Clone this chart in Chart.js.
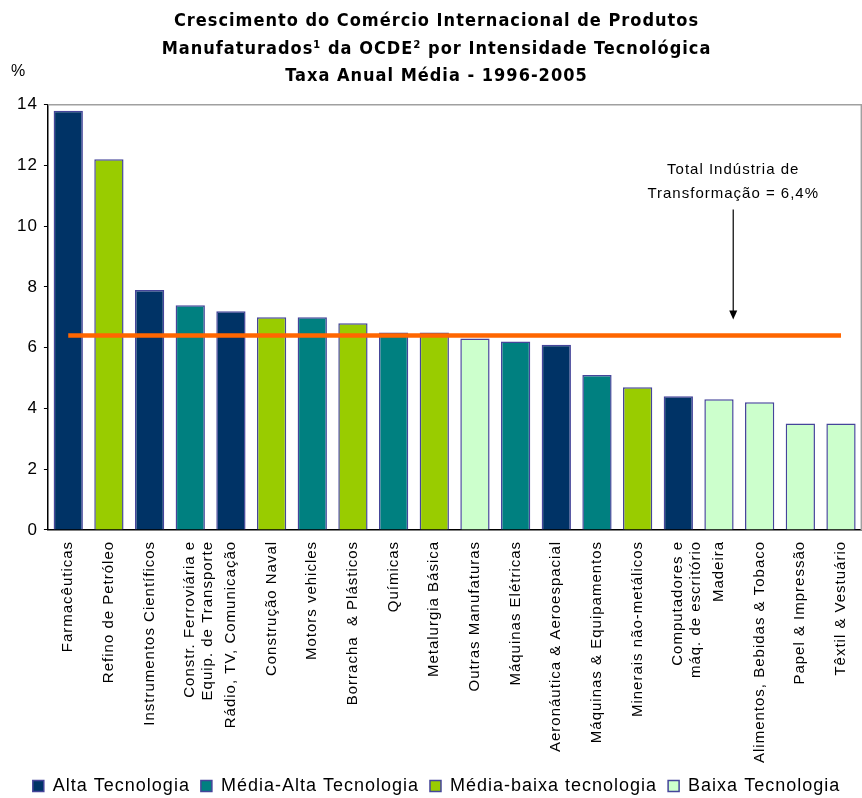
<!DOCTYPE html>
<html lang="pt">
<head>
<meta charset="utf-8">
<title>Crescimento do Comércio Internacional de Produtos Manufaturados</title>
<script src="https://cdn.jsdelivr.net/npm/chart.js@4/dist/chart.umd.min.js"></script>
<style>
    html, body { margin: 0; padding: 0; background: #fff; }
    #wrap { width: 862px; height: 798px; }
</style>
</head>
<body>
<div id="wrap"><canvas id="barchart"></canvas></div>
<script>
const setores = [
    'Farmacêuticas',
    'Refino de Petróleo',
    'Instrumentos Científicos',
    ['Constr. Ferroviária e', 'Equip. de Transporte'],
    'Rádio, TV, Comunicação',
    'Construção Naval',
    'Motors vehicles',
    'Borracha  & Plásticos',
    'Químicas',
    'Metalurgia Básica',
    'Outras Manufaturas',
    'Máquinas Elétricas',
    'Aeronáutica & Aeroespacial',
    'Máquinas & Equipamentos',
    'Minerais não-metálicos',
    ['Computadores e', 'máq. de escritório'],
    'Madeira',
    'Alimentos, Bebidas & Tobaco',
    'Papel & Impressão',
    'Têxtil & Vestuário'
];
const taxas = [13.8, 12.2, 7.9, 7.4, 7.2, 7.0, 7.0, 6.8, 6.5, 6.5,
               6.3, 6.2, 6.1, 5.1, 4.7, 4.4, 4.3, 4.2, 3.5, 3.5];
// 0 = alta, 1 = média-alta, 2 = média-baixa, 3 = baixa
const nivel = [0, 2, 0, 1, 0, 2, 1, 2, 1, 2,
               3, 1, 0, 1, 2, 0, 3, 3, 3, 3];
const niveis = ['Alta Tecnologia', 'Média-Alta Tecnologia', 'Média-baixa tecnologia', 'Baixa Tecnologia'];
const cores = ['#003366', '#008080', '#99cc00', '#ccffcc'];
const totalIndustria = 6.4;
const yTicks = [0, 2, 4, 6, 8, 10, 12, 14];

const fonte = "'Liberation Sans', Arial, sans-serif";
const contorno = '#45459a';

// texto um pouco espaçado em todo o gráfico
const espacamento = {
    id: 'espacamento',
    beforeUpdate(chart) { chart.ctx.letterSpacing = '1px'; },
    beforeDraw(chart) { chart.ctx.letterSpacing = '1px'; }
};

// moldura, "%" e a seta com o texto do total
const extras = {
    id: 'extras',
    afterDraw(chart) {
        const ctx = chart.ctx;
        const a = chart.chartArea;
        const x = chart.scales.x;
        const y = chart.scales.y;
        ctx.save();
        ctx.strokeStyle = '#a0a0a0';
        ctx.lineWidth = 1.5;
        ctx.beginPath();
        ctx.moveTo(a.left, a.top);
        ctx.lineTo(a.right, a.top);
        ctx.lineTo(a.right, a.bottom);
        ctx.stroke();

        ctx.fillStyle = '#000';
        ctx.font = '16px ' + fonte;
        ctx.textAlign = 'left';
        ctx.textBaseline = 'middle';
        ctx.fillText('%', 11, 72);

        const ax = x.getPixelForValue(16.35);
        ctx.font = '15px ' + fonte;
        ctx.textAlign = 'center';
        ctx.fillText('Total Indústria de', ax, y.getPixelForValue(11.85));
        ctx.fillText('Transformação = ' + String(totalIndustria).replace('.', ',') + '%', ax, y.getPixelForValue(11.08));

        const y0 = y.getPixelForValue(10.55);
        const y1 = y.getPixelForValue(6.93);
        ctx.strokeStyle = '#000';
        ctx.lineWidth = 1.2;
        ctx.beginPath();
        ctx.moveTo(ax, y0);
        ctx.lineTo(ax, y1 - 8);
        ctx.stroke();
        ctx.beginPath();
        ctx.moveTo(ax - 4, y1 - 9);
        ctx.lineTo(ax + 4, y1 - 9);
        ctx.lineTo(ax, y1);
        ctx.closePath();
        ctx.fill();
        ctx.restore();
    }
};

new Chart('barchart', {
    type: 'bar',
    data: {
        labels: setores,
        datasets: [{
            type: 'line',
            label: 'Total',
            data: setores.map(() => totalIndustria),
            borderColor: '#ff6600',
            borderWidth: 4.5,
            pointRadius: 0,
            order: 0
        }, {
            label: 'Taxa',
            data: taxas,
            backgroundColor: nivel.map(n => cores[n]),
            borderColor: contorno,
            borderWidth: 1.5,
            barPercentage: 0.72,
            categoryPercentage: 1,
            order: 1
        }]
    },
    plugins: [espacamento, extras],
    options: {
        responsive: true,
        maintainAspectRatio: false,
        animation: false,
        layout: { padding: { left: 11, right: 0, top: 0, bottom: -7 } },
        plugins: {
            title: {
                display: true,
                text: ['Crescimento do Comércio Internacional de Produtos',
                       'Manufaturados¹ da OCDE² por Intensidade Tecnológica',
                       'Taxa Anual Média - 1996-2005'],
                color: '#000',
                font: { family: "'Liberation Sans Narrow', 'DejaVu Sans Condensed', Arial, sans-serif", size: 18, weight: 'bold', lineHeight: 1.55 },
                padding: { top: 7, bottom: 14 }
            },
            legend: {
                position: 'bottom',
                labels: {
                    color: '#000',
                    font: { family: fonte, size: 18 },
                    boxWidth: 11,
                    boxHeight: 11,
                    padding: 11,
                    generateLabels: () => niveis.map((n, i) => ({
                        text: n,
                        fillStyle: cores[i],
                        strokeStyle: contorno,
                        lineWidth: 1.5,
                        hidden: false,
                        index: i
                    }))
                },
                onClick: null
            },
            tooltip: { enabled: false }
        },
        scales: {
            x: {
                grid: { display: false },
                border: { color: '#000', width: 1.5 },
                ticks: {
                    color: '#000',
                    font: { family: fonte, size: 15 },
                    maxRotation: 90,
                    minRotation: 90,
                    autoSkip: false,
                    padding: 3
                }
            },
            y: {
                min: 0,
                max: 14,
                afterBuildTicks: axis => { axis.ticks = yTicks.map(v => ({ value: v })); },
                grid: { drawOnChartArea: false, color: '#000', tickLength: 4 },
                border: { color: '#000', width: 1.5 },
                ticks: {
                    color: '#000',
                    font: { family: fonte, size: 17 },
                    padding: 6
                }
            }
        }
    }
});
</script>
</body>
</html>
